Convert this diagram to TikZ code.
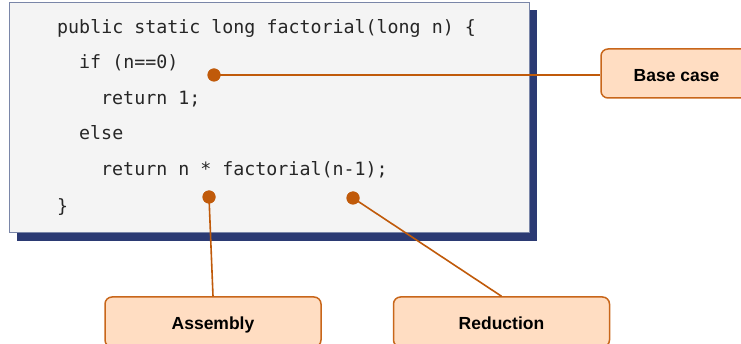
\documentclass[tikz,border=0pt]{standalone}
\usepackage{fontspec}
\newfontfamily\codefont{DejaVu Sans Mono}
\newfontfamily\labelfont{Liberation Sans}
\definecolor{calloutline}{HTML}{C05A0A}
\definecolor{calloutfill}{HTML}{FFDDC2}
\definecolor{calloutedge}{HTML}{C8661A}
\definecolor{shadowblue}{HTML}{2B3A73}
\definecolor{codeedge}{HTML}{7A86A8}
\definecolor{codebg}{HTML}{F4F4F4}
\definecolor{codeink}{HTML}{262626}
\tikzset{
  codeline/.style={anchor=base west, inner sep=0pt, font=\codefont\fontsize{18.3}{20}\selectfont, text=codeink},
  pin/.style={circle, fill=calloutline, inner sep=0pt, minimum size=13pt},
  leader/.style={draw=calloutline, line width=1.6pt},
  callout/.style={draw=calloutedge, fill=calloutfill, line width=1.5pt, rounded corners=7pt,
    minimum width=216pt, minimum height=50pt, inner sep=0pt, text height=15.5pt, text depth=0pt,
    font=\labelfont\bfseries\fontsize{17.5}{20}\selectfont, text=black},
}
\begin{document}
\begin{tikzpicture}[x=1pt, y=-1pt]
  \useasboundingbox (0,0) rectangle (741,344);
  \clip (0,0) rectangle (741,344);
  % code panel with drop shadow
  \fill[shadowblue] (17,10) rectangle (537,241);
  \draw[codeedge, fill=codebg, line width=1pt] (9,3) rectangle (529,233);
  % source listing
  \node[codeline] (l1) at (57,34)  {public static long factorial(long n) \{};
  \node[codeline] (l2) at (79,69)  {if (n==0)};
  \node[codeline] (l3) at (101,105) {return 1;};
  \node[codeline] (l4) at (79,140) {else};
  \node[codeline] (l5) at (101,176) {return n * factorial(n-1);};
  \node[codeline] (l6) at (57,213) {\}};
  % callout boxes
  \node[callout, minimum width=151pt, minimum height=49pt] (base) at (676.5,73.5) {Base case};
  \node[callout] (asm) at (213,322) {Assembly};
  \node[callout] (red) at (501.5,322) {Reduction};
  % anchor points
  \node[pin] (pbase) at (214,75) {};
  \node[pin] (pasm) at (209,197) {};
  \node[pin] (pred) at (353,198) {};
  % leaders, drawn under the pins
  \draw[leader] (pbase.center) -- (pbase.center -| base.west);
  \draw[leader] (pasm.center) -- (asm.north);
  \draw[leader] (pred.center) -- (red.north);
  \node[pin] at (pbase) {};
  \node[pin] at (pasm) {};
  \node[pin] at (pred) {};
\end{tikzpicture}
\end{document}
